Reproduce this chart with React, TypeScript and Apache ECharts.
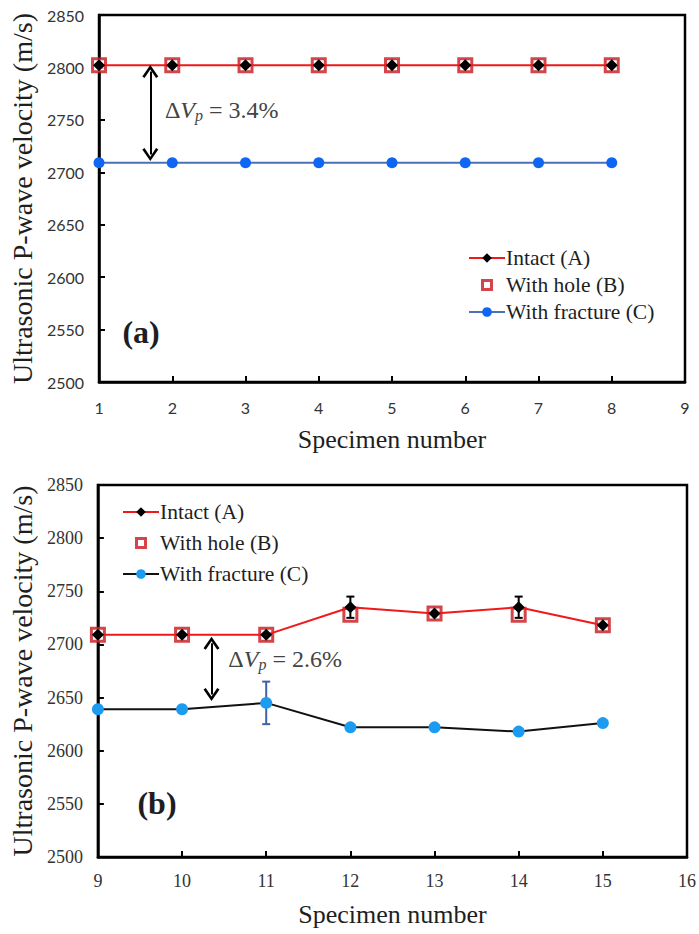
import React, { useEffect, useRef } from "react";
import * as echarts from "echarts";

// ---------- data ----------
const topSpecimens = [1, 2, 3, 4, 5, 6, 7, 8];
const topIntact = [2802, 2802, 2802, 2802, 2802, 2802, 2802, 2802];
const topHole = [2802, 2802, 2802, 2802, 2802, 2802, 2802, 2802];
const topFracture = [2709, 2709, 2709, 2709, 2709, 2709, 2709, 2709];

const botSpecimens = [9, 10, 11, 12, 13, 14, 15];
const botIntact = [2709, 2709, 2709, 2735, 2729, 2735, 2718];
const botIntactErr = [0, 0, 0, 10, 0, 10, 0];
const botHole = [2709, 2709, 2709, 2728, 2729, 2728, 2718];
const botFracture = [2639, 2639, 2645, 2622, 2622, 2618, 2626];
const botFractureErr = [0, 0, 20, 0, 0, 0, 0];

const legendNames = ["Intact (A)", "With hole (B)", "With fracture (C)"];
const deltaTop = "3.4%";
const deltaBot = "2.6%";
const yAxisName = "Ultrasonic P-wave velocity (m/s)";
const xAxisName = "Specimen number";

// ---------- helpers ----------
const SERIF = "Liberation Serif";
const SANS = "Lato";
const TXT = "#1e1e1e";
const CHEVRON = "path://M5,0 L10,9 L8.6,10.3 L5,3.4 L1.4,10.3 L0,9 Z";
// hollow square centred in a 36x12 legend slot
const HOLLOW_SQ =
  "path://M0,6 L0.01,6 L0,6.01 Z M36,6 L35.99,6 L36,6.01 Z M12,0 L24,0 L24,12 L12,12 Z M15,3 L15,9 L21,9 L21,3 Z";

const pairs = (xs: number[], ys: number[]) => xs.map((x, i) => [x, ys[i]]);
const errData = (xs: number[], ys: number[], es: number[]) =>
  xs
    .map((x, i) => [x, ys[i] - es[i], ys[i] + es[i], es[i]])
    .filter((d) => d[3] > 0);

const errorRender = (color: string) => (params: any, api: any) => {
  const x = api.value(0);
  const lo = api.coord([x, api.value(1)]);
  const hi = api.coord([x, api.value(2)]);
  const w = 4;
  const style = { stroke: color, lineWidth: 2 };
  return {
    type: "group",
    children: [
      { type: "line", shape: { x1: lo[0], y1: lo[1], x2: hi[0], y2: hi[1] }, style },
      { type: "line", shape: { x1: lo[0] - w, y1: lo[1], x2: lo[0] + w, y2: lo[1] }, style },
      { type: "line", shape: { x1: hi[0] - w, y1: hi[1], x2: hi[0] + w, y2: hi[1] }, style },
    ],
  };
};

const deltaLabel = (val: string) => ({
  show: true,
  position: "right",
  distance: 0,
  formatter: `{d|Δ}{v|V}{p|p}{t| = ${val}}`,
  rich: {
    d: { fontFamily: SERIF, fontSize: 24, color: "#444" },
    v: { fontFamily: SERIF, fontSize: 24, fontStyle: "italic", color: "#444" },
    p: { fontFamily: SERIF, fontSize: 16, fontStyle: "italic", color: "#444", verticalAlign: "bottom", padding: [10, 0, 0, 0] },
    t: { fontFamily: SERIF, fontSize: 24, color: "#444" },
  },
});

const panelLabel = (txt: string) => ({
  show: true,
  position: "right",
  distance: 0,
  formatter: txt,
  fontFamily: SERIF,
  fontSize: 32,
  fontWeight: "bold",
  color: TXT,
});

const xAxisBase = (min: number, max: number, idx: number, serifTicks: boolean) => ({
  type: "value",
  gridIndex: idx,
  min,
  max,
  interval: 1,
  name: xAxisName,
  nameLocation: "middle",
  nameGap: 44,
  nameTextStyle: { fontFamily: SERIF, fontSize: 26, color: TXT },
  axisLine: { lineStyle: { color: "#000", width: 2.5 } },
  axisTick: { inside: true, length: 6, lineStyle: { color: "#000", width: 2 } },
  axisLabel: {
    fontFamily: serifTicks ? SERIF : SANS,
    fontSize: serifTicks ? 18 : 16,
    color: "#333",
    margin: serifTicks ? 15 : 17,
    formatter: (v: number) => String(v),
  },
  splitLine: { show: false },
});

const yAxisBase = (idx: number, serifTicks: boolean) => ({
  type: "value",
  gridIndex: idx,
  min: 2500,
  max: 2850,
  interval: 50,
  name: yAxisName,
  nameLocation: "middle",
  nameGap: 57,
  nameTextStyle: { fontFamily: SERIF, fontSize: 28, color: TXT },
  axisLine: { lineStyle: { color: "#000", width: 2.5 } },
  axisTick: { inside: true, length: 6, lineStyle: { color: "#000", width: 2 } },
  axisLabel: {
    fontFamily: serifTicks ? SERIF : SANS,
    fontSize: serifTicks ? 18 : 16,
    color: "#333",
    margin: 15,
    formatter: (v: number) => String(v),
  },
  splitLine: { show: false },
});

const legendNameMap: Record<string, string> = {
  a1: legendNames[0],
  b1: legendNames[1],
  c1: legendNames[2],
  a2: legendNames[0],
  b2: legendNames[1],
  c2: legendNames[2],
};

const holeLegendItem = (name: string) => ({
  name,
  icon: HOLLOW_SQ,
  itemStyle: { color: "#c8161d", borderWidth: 0 },
});

export default function App() {
  const ref = useRef<HTMLDivElement>(null);

  useEffect(() => {
    document.body.style.margin = "0";
    if (!ref.current) return;
    const chart = echarts.init(ref.current, undefined, { renderer: "svg" });

    const legendCommon = {
      orient: "vertical",
      itemWidth: 36,
      itemHeight: 12,
      itemGap: 5,
      formatter: (n: string) => legendNameMap[n],
      textStyle: { fontFamily: SERIF, fontSize: 21.5, color: TXT, padding: [0, 0, 0, -4] },
      selectedMode: false,
    };

    const arrowLine = (x: number, y1: number, y2: number) => ({
      silent: true,
      symbol: [CHEVRON, CHEVRON],
      symbolSize: [16, 13],
      lineStyle: { color: "#000", width: 2, type: "solid" },
      label: { show: false },
      data: [[{ coord: [x, y1] }, { coord: [x, y2] }]],
    });

    const option: any = {
      animation: false,
      backgroundColor: "#fff",
      textStyle: { fontFamily: SERIF },
      grid: [
        { left: 95, top: 15, width: 590, height: 367, show: true, borderColor: "#000", borderWidth: 2.5 },
        { left: 92, top: 485, width: 598, height: 372, show: true, borderColor: "#000", borderWidth: 2.5 },
      ],
      legend: [
        { ...legendCommon, data: ["a1", holeLegendItem("b1"), "c1"], left: 463, top: 242 },
        { ...legendCommon, data: ["a2", holeLegendItem("b2"), "c2"], left: 117, top: 496, itemGap: 9 },
      ],
      xAxis: [xAxisBase(1, 9, 0, false), xAxisBase(9, 16, 1, true)],
      yAxis: [yAxisBase(0, false), yAxisBase(1, true)],
      series: [
        // ---------- panel (a) ----------
        {
          name: "c1",
          type: "line",
          xAxisIndex: 0,
          yAxisIndex: 0,
          data: pairs(topSpecimens, topFracture),
          symbol: "circle",
          symbolSize: 11,
          lineStyle: { color: "#4a72b8", width: 2 },
          itemStyle: { color: "#0f66f2" },
          z: 2,
        },
        {
          name: "b1",
          type: "scatter",
          xAxisIndex: 0,
          yAxisIndex: 0,
          data: pairs(topSpecimens, topHole),
          symbol: "rect",
          symbolSize: 13,
          itemStyle: { color: "#fff", borderColor: "#c8161d", borderWidth: 3 },
          z: 3,
        },
        {
          name: "a1",
          type: "line",
          xAxisIndex: 0,
          yAxisIndex: 0,
          data: pairs(topSpecimens, topIntact),
          symbol: "diamond",
          symbolSize: 12,
          lineStyle: { color: "#f01818", width: 2 },
          itemStyle: { color: "#000" },
          z: 4,
          markLine: arrowLine(1.7, 2796, 2717),
          markPoint: {
            silent: true,
            symbol: "circle",
            symbolSize: 0,
            data: [
              { coord: [1.9, 2759], label: deltaLabel(deltaTop) },
              { coord: [1.32, 2548], label: panelLabel("(a)") },
            ],
          },
        },
        // ---------- panel (b) ----------
        {
          name: "c2",
          type: "line",
          xAxisIndex: 1,
          yAxisIndex: 1,
          data: pairs(botSpecimens, botFracture),
          symbol: "circle",
          symbolSize: 12,
          lineStyle: { color: "#111", width: 2 },
          itemStyle: { color: "#1c9cf0" },
          z: 2,
        },
        {
          type: "custom",
          xAxisIndex: 1,
          yAxisIndex: 1,
          data: errData(botSpecimens, botFracture, botFractureErr),
          renderItem: errorRender("#4060a8"),
          encode: { x: 0, y: [1, 2] },
          z: 1,
          silent: true,
        },
        {
          name: "b2",
          type: "scatter",
          xAxisIndex: 1,
          yAxisIndex: 1,
          data: pairs(botSpecimens, botHole),
          symbol: "rect",
          symbolSize: 13,
          itemStyle: { color: "#fff", borderColor: "#c8161d", borderWidth: 3 },
          z: 3,
        },
        {
          type: "custom",
          xAxisIndex: 1,
          yAxisIndex: 1,
          data: errData(botSpecimens, botIntact, botIntactErr),
          renderItem: errorRender("#000"),
          encode: { x: 0, y: [1, 2] },
          z: 4,
          silent: true,
        },
        {
          name: "a2",
          type: "line",
          xAxisIndex: 1,
          yAxisIndex: 1,
          data: pairs(botSpecimens, botIntact),
          symbol: "diamond",
          symbolSize: 12,
          lineStyle: { color: "#f01818", width: 2 },
          itemStyle: { color: "#000" },
          z: 5,
          markLine: arrowLine(10.35, 2701, 2653),
          markPoint: {
            silent: true,
            symbol: "circle",
            symbolSize: 0,
            data: [
              { coord: [10.55, 2686], label: deltaLabel(deltaBot) },
              { coord: [9.47, 2551], label: panelLabel("(b)") },
            ],
          },
        },
      ],
    };

    chart.setOption(option);
    return () => chart.dispose();
  }, []);

  return <div ref={ref} style={{ width: 699, height: 934 }} />;
}
